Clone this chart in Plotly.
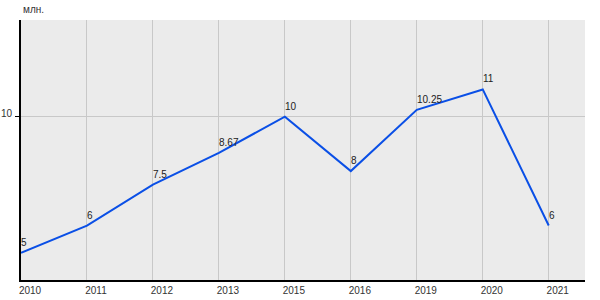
import plotly.graph_objects as go

years = ["2010", "2011", "2012", "2013", "2015", "2016", "2019", "2020", "2021"]
values = [5, 6, 7.5, 8.67, 10, 8, 10.25, 11, 6]
labels = ["5", "6", "7.5", "8.67", "10", "8", "10.25", "11", "6"]

fig = go.Figure()
fig.add_trace(go.Scatter(
    x=years, y=values, mode="lines",
    line=dict(color="#0a4fe6", width=2),
    showlegend=False,
))

annotations = [dict(text="млн.", xref="paper", yref="paper", x=0, y=1,
                    xanchor="left", yanchor="bottom", yshift=3, showarrow=False,
                    font=dict(family="Arial", size=10, color="#333"))]
for i, (yv, lab) in enumerate(zip(values, labels)):
    annotations.append(dict(x=i, y=yv, text=lab, xref="x", yref="y",
                            xanchor="left", yanchor="bottom", xshift=-2, yshift=3,
                            showarrow=False,
                            font=dict(family="Arial", size=10, color="#222")))

fig.update_layout(
    width=600, height=300,
    margin=dict(l=21, r=15, t=20, b=20),
    paper_bgcolor="white", plot_bgcolor="#ebebeb",
    font=dict(family="Arial", size=10, color="#333"),
    annotations=annotations,
)
fig.update_xaxes(
    type="category", range=[0, 8.55], showgrid=True, gridcolor="#c8c8c8",
    gridwidth=1, showline=True, linecolor="black", linewidth=2,
    ticks="", ticklabelshift=9, ticklabelstandoff=0, automargin=False,
    tickfont=dict(family="Arial", size=10, color="#333"), zeroline=False,
)
fig.update_yaxes(
    range=[4, 13.55], tickvals=[10], showgrid=True, gridcolor="#c8c8c8",
    showline=True, linecolor="black", linewidth=2, automargin=False,
    ticks="outside", ticklen=4, tickcolor="black", ticklabelshift=-3,
    ticklabelstandoff=1,
    tickfont=dict(family="Arial", size=10, color="#333"), zeroline=False,
)

fig.write_html("out.html")
